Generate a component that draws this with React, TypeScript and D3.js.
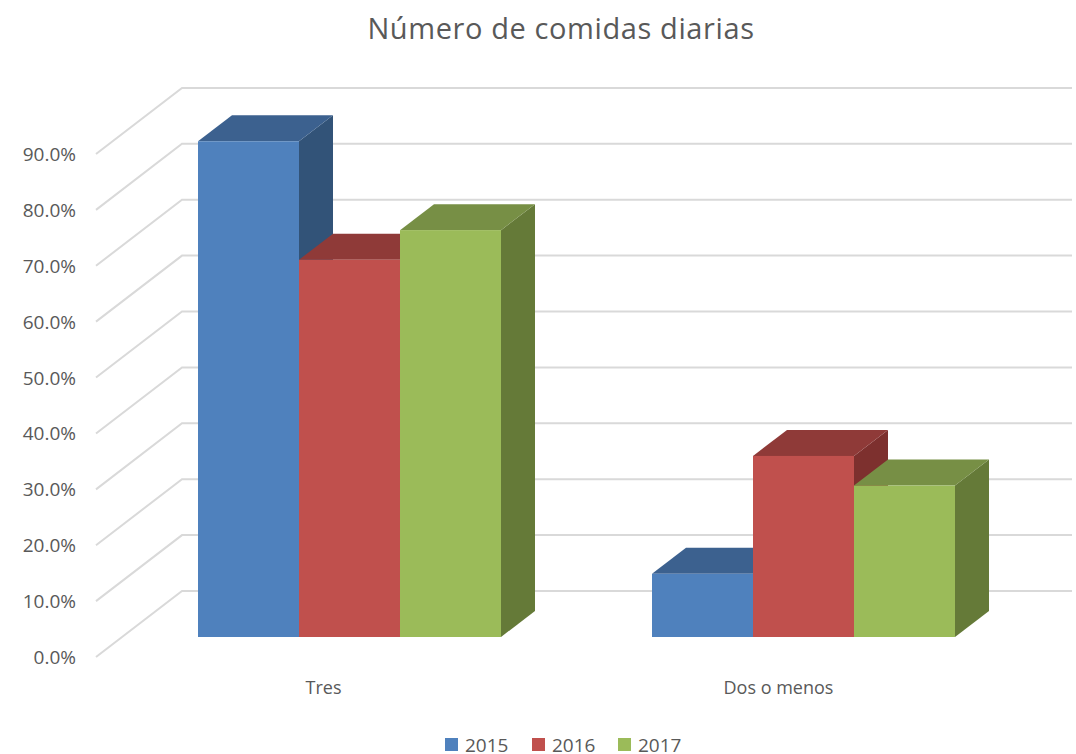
import React from "react";
import * as d3 from "d3";

const title = "Número de comidas diarias";
const categories = ["Tres", "Dos o menos"];
const seriesNames = ["2015", "2016", "2017"];
const values2015 = [88.7, 11.3];
const values2016 = [67.5, 32.4];
const values2017 = [72.8, 27.1];
const seriesValues = [values2015, values2016, values2017];
const frontColors = ["#4F81BD", "#C0504D", "#9BBB59"];
const topColors = ["#3C618F", "#8F3A38", "#778F45"];
const sideColors = ["#325378", "#7D302E", "#657A38"];
const ticks = [0, 10, 20, 30, 40, 50, 60, 70, 80, 90, 100];

const FONT = "'Open Sans', sans-serif";
const TEXT = "#595959";
const GRID = "#D9D9D9";
const DX = 34;
const DY = 26;

export default function App() {
  const yFront = d3.scaleLinear().domain([0, 90]).range([657, 154]);
  const yBack = d3.scaleLinear().domain([0, 100]).range([591, 32]);
  const yBar = d3.scaleLinear().domain([0, 90]).range([637, 134]);
  const x0 = d3.scaleBand().domain(categories).range([198, 955]).paddingInner(151 / 454);
  const x1 = d3.scaleBand().domain(seriesNames).range([0, x0.bandwidth()]);
  const poly = (p: [number, number][]) => p.map((q) => q.join(",")).join(" ");
  const legendX = [445, 532, 618];

  return (
    <svg
      width={1076}
      height={754}
      style={{ position: "absolute", left: 0, top: 0, display: "block", background: "#fff" }}
    >
      <text x={561} y={39} textAnchor="middle" fontFamily={FONT} fontSize={29} fill={TEXT} letterSpacing={0.6}>
        {title}
      </text>
      {ticks.slice(0, 10).map((t) => (
        <g key={t}>
          <polyline
            points={poly([
              [96, yFront(t)],
              [182, yBack(t)],
              [1072, yBack(t)],
            ])}
            fill="none"
            stroke={GRID}
            strokeWidth={2}
          />
          <text x={76} y={yFront(t) + 7} textAnchor="end" fontFamily={FONT} fontSize={19} fill={TEXT}>
            {d3.format(".1f")(t)}%
          </text>
        </g>
      ))}
      {categories.map((c, ci) => (
        <g key={c}>
          {seriesNames.map((s, si) => {
            const v = seriesValues[si][ci];
            const xl = (x0(c) as number) + (x1(s) as number);
            const xr = xl + x1.bandwidth();
            const yt = yBar(v);
            const yb = yBar(0);
            return (
              <g key={s}>
                <polygon
                  points={poly([
                    [xr, yt],
                    [xr + DX, yt - DY],
                    [xr + DX, yb - DY],
                    [xr, yb],
                  ])}
                  fill={sideColors[si]}
                />
                <polygon
                  points={poly([
                    [xl, yt],
                    [xl + DX, yt - DY],
                    [xr + DX, yt - DY],
                    [xr, yt],
                  ])}
                  fill={topColors[si]}
                />
                <rect x={xl} y={yt} width={x1.bandwidth()} height={yb - yt} fill={frontColors[si]} />
              </g>
            );
          })}
          <text
            x={(x0(c) as number) + x0.bandwidth() / 2 + 1 + (ci === 0 ? -27 : -26)}
            y={694}
            textAnchor="middle"
            fontFamily={FONT}
            fontSize={18}
            fill={TEXT}
          >
            {c}
          </text>
        </g>
      ))}
      {seriesNames.map((s, i) => (
        <g key={s}>
          <rect x={legendX[i]} y={738} width={13} height={13} fill={frontColors[i]} />
          <text x={legendX[i] + 20} y={752} fontFamily={FONT} fontSize={19} fill={TEXT}>
            {s}
          </text>
        </g>
      ))}
    </svg>
  );
}
